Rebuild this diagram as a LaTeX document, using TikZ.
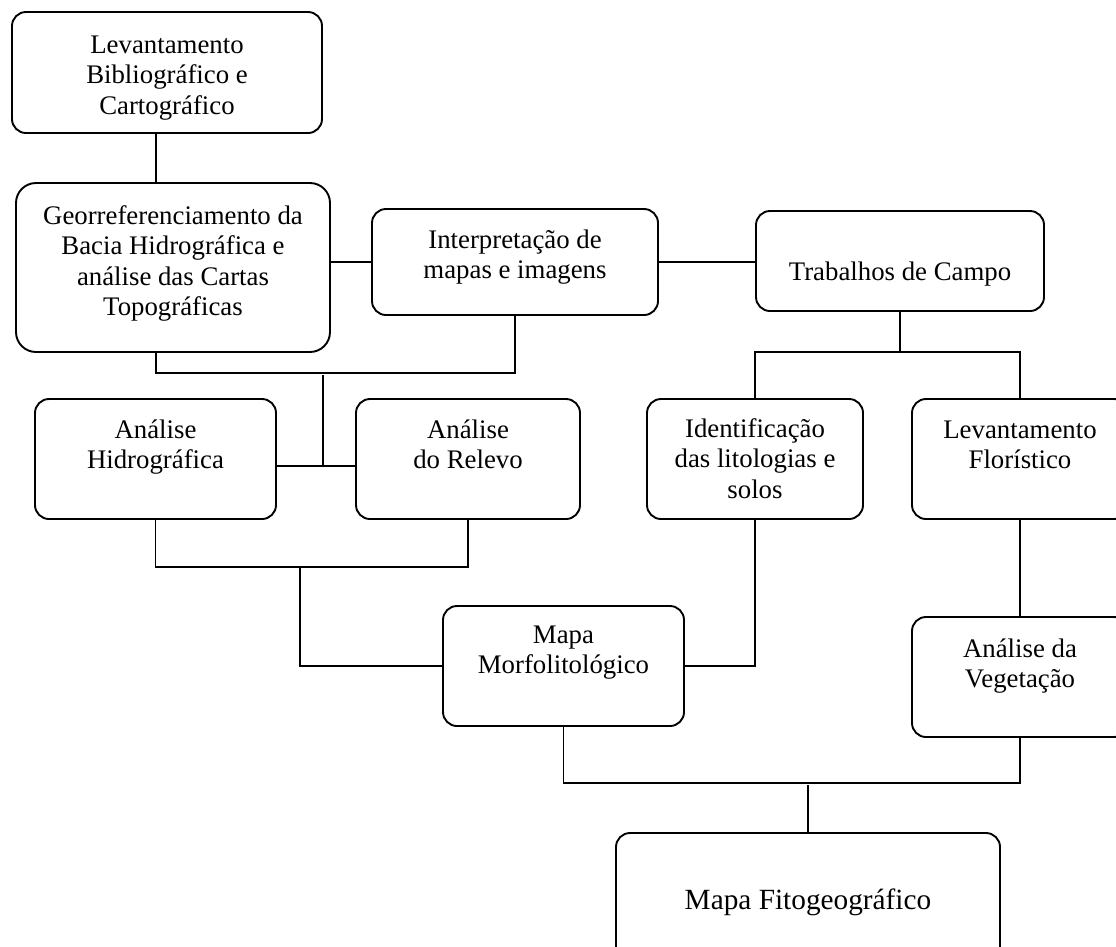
\documentclass[tikz,border=0pt]{standalone}
\usepackage{fontspec}
\setmainfont{Liberation Serif}
\newcommand{\boxtext}[2]{\raisebox{#1}[0pt][0pt]{\begin{tabular}[t]{@{}c@{}}#2\end{tabular}}}
\begin{document}
\begin{tikzpicture}[x=1pt,y=-1pt,
  box/.style={draw, line width=1.9pt, rounded corners=14pt,
    inner sep=0pt, font=\fontsize{26.8}{30.5}\selectfont},
  link/.style={line width=1.9pt}]
\useasboundingbox (0,0) rectangle (1116,946);
\clip (0,0) rectangle (1116,946);

\node[box, minimum width=310pt, minimum height=121pt] (b1) at (167,72.5)
  {\boxtext{19.5pt}{Levantamento\\Bibliográfico e\\Cartográfico}};
\node[box, rounded corners=20pt, minimum width=314pt, minimum height=169pt] (b2) at (173,267.5)
  {\boxtext{43.5pt}{Georreferenciamento da\\Bacia Hidrográfica e\\análise das Cartas\\Topográficas}};
\node[box, minimum width=286pt, minimum height=106pt] (b3) at (515,262)
  {\boxtext{14pt}{Interpretação de\\mapas e imagens}};
\node[box, minimum width=288pt, minimum height=100pt] (b4) at (900,261)
  {\boxtext{-19pt}{Trabalhos de Campo}};
\node[box, minimum width=241pt, minimum height=120pt] (b5) at (155.5,459)
  {\boxtext{21pt}{Análise\\Hidrográfica}};
\node[box, minimum width=224pt, minimum height=120pt] (b6) at (468,459)
  {\boxtext{21pt}{Análise\\do Relevo}};
\node[box, minimum width=216pt, minimum height=120pt] (b7) at (755,459)
  {\boxtext{22pt}{Identificação\\das litologias e\\solos}};
\node[box, minimum width=216pt, minimum height=120pt] (b8) at (1020,459)
  {\boxtext{21pt}{Levantamento\\Florístico}};
\node[box, minimum width=241pt, minimum height=120pt] (b9) at (563.5,666)
  {\boxtext{23pt}{Mapa\\Morfolitológico}};
\node[box, minimum width=216pt, minimum height=120pt] (b10) at (1020,677)
  {\boxtext{20pt}{Análise da\\Vegetação}};
\node[box, minimum width=384pt, minimum height=129pt, font=\fontsize{29.3}{33}\selectfont] (b11) at (808,897.5)
  {\boxtext{-11.5pt}{Mapa Fitogeográfico}};

\coordinate (jA) at (156,373);
\coordinate (jB) at (323,466);
\coordinate (jC) at (300,567);
\coordinate (jD) at (900,352);
\coordinate (jE) at (808,783);

\draw[link] (jA |- b1.south) -- (jA |- b2.north);
\draw[link] (b3.west -| b2.east) -- (b3.west);
\draw[link] (b3.east) -- (b3.east -| b4.west);
\draw[link] (jA |- b2.south) -- (jA) -- (jA -| b3.south) -- (b3.south);
\draw[link] ([yshift=-2pt]jB |- jA) -- (jB);
\draw[link] (b5.east |- jB) -- (b6.west |- jB);
\draw[link] (b5.south) |- (b6.south |- jC) -- (b6.south);
\draw[link] (jC) |- (b9.west);
\draw[link] (b4.south) -- (jD);
\draw[link] (b7.north) |- (b8.north |- jD) -- (b8.north);
\draw[link] (b7.south) |- (b9.east);
\draw[link] (b8.south) -- (b10.north);
\draw[link] (b9.south) |- (b10.south |- jE) -- (b10.south);
\draw[link] ([yshift=-2pt]jE) -- (b11.north);
\end{tikzpicture}
\end{document}
